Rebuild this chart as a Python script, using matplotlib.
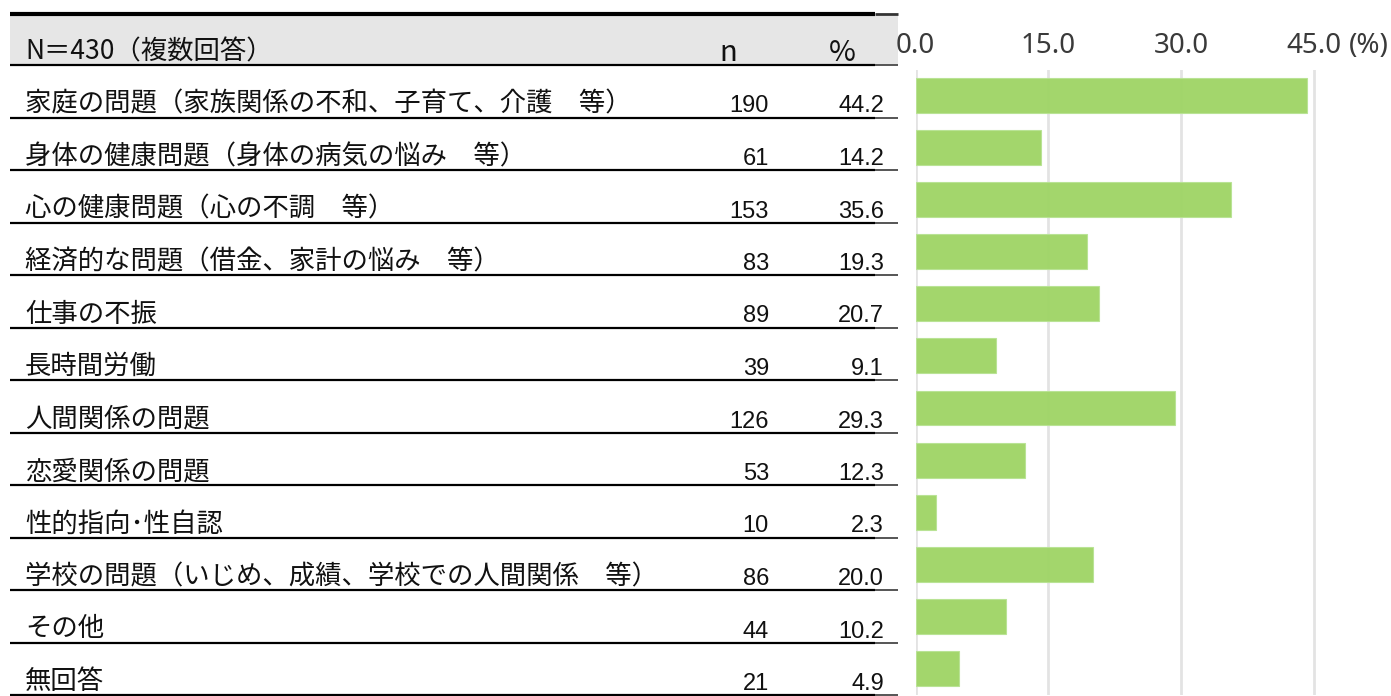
import matplotlib
matplotlib.use('Agg')
import matplotlib.pyplot as plt
from matplotlib.patches import Rectangle
import numpy as np

plt.rcParams['font.family'] = ['Noto Sans CJK JP', 'DejaVu Sans']

# Data
header = 'N＝430（複数回答）'
labels = ['家庭の問題（家族関係の不和、子育て、介護　等）',
          '身体の健康問題（身体の病気の悩み　等）',
          '心の健康問題（心の不調　等）',
          '経済的な問題（借金、家計の悩み　等）',
          '仕事の不振',
          '長時間労働',
          '人間関係の問題',
          '恋愛関係の問題',
          '性的指向･性自認',
          '学校の問題（いじめ、成績、学校での人間関係　等）',
          'その他',
          '無回答']
counts = [190, 61, 153, 83, 89, 39, 126, 53, 10, 86, 44, 21]
pcts = [44.2, 14.2, 35.6, 19.3, 20.7, 9.1, 29.3, 12.3, 2.3, 20.0, 10.2, 4.9]
xticks = [0, 15, 30, 45]

# Layout (pixels)
W, H = 1391, 696
row_top = 65
row_h = 52.5
tbl_left, tbl_black, tbl_right = 10, 875, 898
bar_color = '#9fd566'

fig = plt.figure(figsize=(W / 100, H / 100), dpi=100)

# ---- table part, drawn in pixel coordinates ----
tab = fig.add_axes([0, 0, 1, 1])
tab.set_xlim(0, W)
tab.set_ylim(H, 0)
tab.axis('off')

tab.add_patch(Rectangle((tbl_left, 16), tbl_right - tbl_left, row_top - 16,
                        facecolor='#e6e6e6', edgecolor='none', zorder=0))
tab.plot([tbl_left, tbl_black], [14, 14], color='black', lw=3.0, solid_capstyle='butt')
tab.plot([tbl_black, tbl_right], [14, 14], color='#333333', lw=2.0, solid_capstyle='butt')

for i in range(len(labels) + 1):
    y = row_top + row_h * i
    tab.plot([tbl_left, tbl_black], [y, y], color='black', lw=1.6, solid_capstyle='butt')
    tab.plot([tbl_black, tbl_right], [y, y], color='#555555', lw=1.4, solid_capstyle='butt')

tab.text(25, row_top - 6, header, fontsize=19, va='baseline', ha='left', color='#111111')
tab.text(728, row_top - 4, 'n', fontsize=21, va='baseline', ha='center', color='#111111')
tab.text(842, row_top - 4, '%', fontsize=21, va='baseline', ha='center', color='#111111')

for i, (lab, n, p) in enumerate(zip(labels, counts, pcts)):
    yb = row_top + row_h * (i + 1)
    tab.text(25, yb - 6, lab, fontsize=19, va='baseline', ha='left', color='#111111')
    tab.text(769, yb - 5, str(n), fontsize=17, va='baseline', ha='right',
             family='Liberation Sans', color='#111111')
    tab.text(884, yb - 5, f'{p:.1f}', fontsize=17, va='baseline', ha='right',
             family='Liberation Sans', color='#111111')

# ---- bar part ----
x0 = 915.7
px_per_unit = 8.85
ax = fig.add_axes([x0 / W, 1 - 695 / H, (W - x0) / W, (695 - 70) / H])
ypos = np.arange(len(pcts))
ax.barh(ypos, pcts, height=0.67, color=bar_color, edgecolor='#b9e394', lw=0.8,
        alpha=0.96, zorder=3)
ax.set_xlim(0, (W - x0) / px_per_unit)
ax.set_ylim(11.51, -0.49)
ax.set_yticks([])
ax.xaxis.tick_top()
ax.set_xticks(xticks)
ax.set_xticklabels([f'{t:.1f}' for t in xticks], family='Noto Sans', fontsize=20,
                   color='#3a3a3a')
ax.tick_params(axis='x', length=0, pad=7)
ax.grid(axis='x', color='#e3e3e3', lw=2.0, zorder=0)
ax.set_axisbelow(True)
for s in ax.spines.values():
    s.set_visible(False)
ax.annotate('(%)', xy=(49.0, 1.0), xycoords=ax.get_xaxis_transform(),
            xytext=(0, 7), textcoords='offset points', fontsize=20,
            family='Noto Sans', color='#3a3a3a', ha='left', va='bottom')

fig.savefig('out.png', dpi=100)
